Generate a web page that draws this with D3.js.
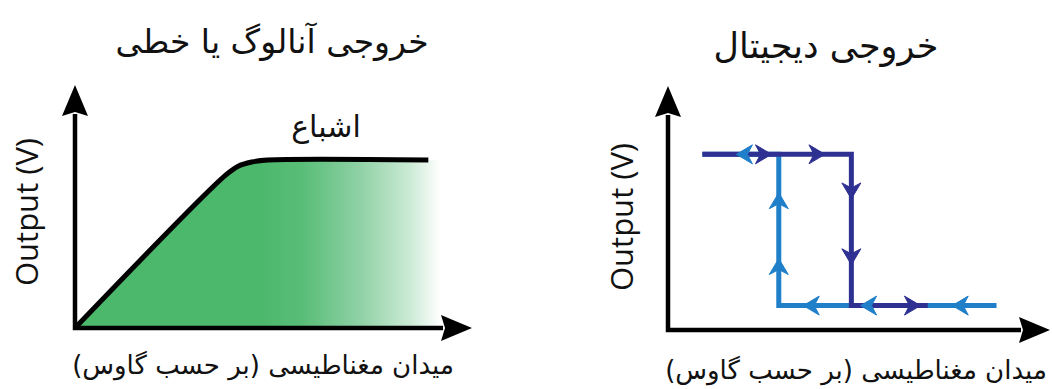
<!DOCTYPE html>
<html>
<head>
<meta charset="utf-8">
<script src="https://cdn.jsdelivr.net/npm/d3@7"></script>
<style>
  html, body { margin: 0; padding: 0; background: #fff; }
  svg { display: block; }
</style>
</head>
<body>
<svg id="chart" width="1052" height="389"></svg>
<script>
// ---- Text ----
const titles = ["خروجی آنالوگ یا خطی", "خروجی دیجیتال"];
const xAxisTitle = "میدان مغناطیسی (بر حسب گاوس)";
const yAxisTitle = "Output (V)";
const saturationLabel = "اشباع";

// ---- Analog (linear) output: field vs output, 0..100 units ----
const analogField  = [0, 38, 41, 44.5, 48.5, 89];
const analogOutput = [0, 63, 66.5, 68.3, 69.1, 69.1];
const analogFillEnd = 92;          // shaded region runs a little past the line

// ---- Digital output (hysteresis loop), 0..100 units ----
const fallingField  = [9, 48, 48, 68];      // sweep up, output drops
const fallingOutput = [72, 72, 10, 10];
const risingField   = [86, 29, 29, 9];      // sweep down, output rises
const risingOutput  = [10, 10, 72, 72];

// direction markers: position and heading (degrees, 0 = right)
const fallingArrowX   = [25, 39, 48, 48, 64];
const fallingArrowY   = [72, 72, 57, 30, 10];
const fallingArrowDir = [0, 0, 90, 90, 0];
const risingArrowX    = [20, 29, 29, 37.5, 52.5, 76.5];
const risingArrowY    = [72, 53, 26, 10, 10, 10];
const risingArrowDir  = [180, -90, -90, 180, 180, 180];

const svg = d3.select("#chart");
const defs = svg.append("defs");

const darkBlue = "#2e3192";
const lightBlue = "#1f7fc9";

// ---- Scales ----
const xA = d3.scaleLinear().domain([0, 100]).range([75, 472]);
const yA = d3.scaleLinear().domain([0, 100]).range([328, 85]);
const xD = d3.scaleLinear().domain([0, 100]).range([668, 1050]);
const yD = d3.scaleLinear().domain([0, 100]).range([330, 86]);

// Axis with arrowheads drawn from a scale pair
function drawAxes(xs, ys) {
  const x0 = xs.range()[0], x1 = xs.range()[1];
  const y0 = ys.range()[0], y1 = ys.range()[1];
  const head = 31, half = 13, notch = 4;
  svg.append("path")
    .attr("d", `M${x0},${y1 + head - 2} L${x0},${y0} L${x1 - head + 2},${y0}`)
    .attr("fill", "none").attr("stroke", "#000")
    .attr("stroke-width", 4.5).attr("stroke-linejoin", "miter");
  svg.append("path")
    .attr("d", `M${x0},${y1} L${x0 + half},${y1 + head} L${x0},${y1 + head - notch} L${x0 - half},${y1 + head} Z`)
    .attr("fill", "#000");
  svg.append("path")
    .attr("d", `M${x1},${y0} L${x1 - head},${y0 - half} L${x1 - head + notch},${y0} L${x1 - head},${y0 + half} Z`)
    .attr("fill", "#000");
}

// ---- Analog chart ----
const analogPts = analogField.map((f, i) => [f, analogOutput[i]]);
const fillPts = analogPts.concat([[analogFillEnd, analogOutput[analogOutput.length - 1]]]);

const grad = defs.append("linearGradient")
  .attr("id", "fade").attr("gradientUnits", "userSpaceOnUse")
  .attr("x1", xA(0)).attr("x2", xA(analogFillEnd)).attr("y1", 0).attr("y2", 0);
[[0, "#4bb86c"], [0.50, "#4bb86c"], [0.62, "#58bd77"], [0.78, "#8fd1a5"], [0.92, "#cdebd6"], [1, "#ffffff"]]
  .forEach(s => grad.append("stop").attr("offset", s[0]).attr("stop-color", s[1]));

svg.append("path")
  .datum(fillPts)
  .attr("d", d3.area().x(d => xA(d[0])).y0(yA(0)).y1(d => yA(d[1])))
  .attr("fill", "url(#fade)");

drawAxes(xA, yA);

svg.append("path")
  .datum(analogPts)
  .attr("d", d3.line().x(d => xA(d[0])).y(d => yA(d[1])).curve(d3.curveCatmullRom.alpha(0.5)))
  .attr("fill", "none").attr("stroke", "#000")
  .attr("stroke-width", 5).attr("stroke-linejoin", "round");

// ---- Digital chart ----
drawAxes(xD, yD);

const lineD = d3.line().x(d => xD(d[0])).y(d => yD(d[1]));
svg.append("path")
  .datum(risingField.map((f, i) => [f, risingOutput[i]]))
  .attr("d", lineD).attr("fill", "none").attr("stroke", lightBlue).attr("stroke-width", 5);
svg.append("path")
  .datum(fallingField.map((f, i) => [f, fallingOutput[i]]))
  .attr("d", lineD).attr("fill", "none").attr("stroke", darkBlue).attr("stroke-width", 5);

// chevron-style direction marker pointing along +x
const arrowShape = "M8,0 L-8,-9.5 L-3,0 L-8,9.5 Z";
function drawArrows(xs, ys, dirs, color) {
  svg.append("g").selectAll("path")
    .data(xs.map((x, i) => ({ x, y: ys[i], a: dirs[i] })))
    .join("path")
    .attr("d", arrowShape)
    .attr("transform", d => `translate(${xD(d.x)},${yD(d.y)}) rotate(${d.a})`)
    .attr("fill", color)
    .attr("stroke", color).attr("stroke-width", 1).attr("stroke-linejoin", "round");
}
drawArrows(fallingArrowX, fallingArrowY, fallingArrowDir, darkBlue);
drawArrows(risingArrowX, risingArrowY, risingArrowDir, lightBlue);

// ---- Text ----
const arabicFont = "'DejaVu Sans', 'Noto Sans', sans-serif";
const latinFont = "'Open Sans', 'Noto Sans', sans-serif";

svg.append("text").text(titles[0])
  .attr("x", 272).attr("y", 53).attr("text-anchor", "middle").attr("direction", "rtl")
  .attr("font-family", arabicFont).attr("font-size", 33).attr("fill", "#111");
svg.append("text").text(titles[1])
  .attr("x", 826).attr("y", 58).attr("text-anchor", "middle").attr("direction", "rtl")
  .attr("font-family", arabicFont).attr("font-size", 35).attr("fill", "#111");

svg.append("text").text(saturationLabel)
  .attr("x", 326).attr("y", 137).attr("text-anchor", "middle").attr("direction", "rtl")
  .attr("font-family", arabicFont).attr("font-size", 30).attr("fill", "#111");

svg.append("text").text(xAxisTitle)
  .attr("x", 263).attr("y", 374).attr("text-anchor", "middle").attr("direction", "rtl")
  .attr("font-family", arabicFont).attr("font-size", 26).attr("fill", "#111");
svg.append("text").text(xAxisTitle)
  .attr("x", 856).attr("y", 379).attr("text-anchor", "middle").attr("direction", "rtl")
  .attr("font-family", arabicFont).attr("font-size", 26).attr("fill", "#111");

[[38, 212], [633, 217]].forEach(p => {
  svg.append("text").text(yAxisTitle)
    .attr("transform", `translate(${p[0]},${p[1]}) rotate(-90)`)
    .attr("text-anchor", "middle")
    .attr("font-family", latinFont).attr("font-size", 31).attr("fill", "#111");
});
</script>
</body>
</html>
